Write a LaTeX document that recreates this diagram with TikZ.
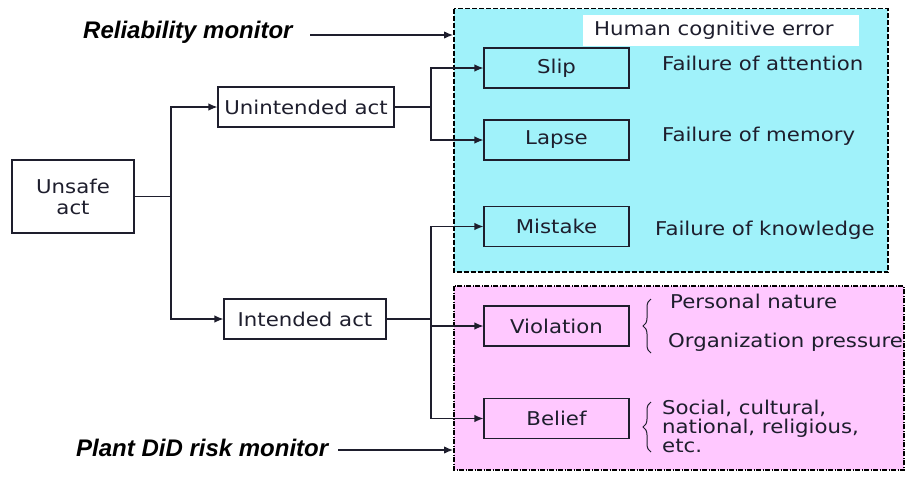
\documentclass[tikz,border=0pt]{standalone}
\usepackage{fontspec}
\setmainfont{DejaVu Sans}[FakeStretch=1.12]
\newfontfamily\labelfont{Liberation Sans}
\usetikzlibrary{arrows.meta,decorations.pathreplacing}
\definecolor{cyanzone}{RGB}{160,242,250}
\definecolor{pinkzone}{RGB}{255,200,255}
\definecolor{ink}{RGB}{30,30,45}
\tikzset{
  box/.style={draw=ink, line width=1.2pt, fill=#1, minimum height=40pt, inner sep=0pt, font=\fontsize{19}{22}\selectfont, text=ink},
  box/.default=white,
  conn/.style={draw=ink, line width=1.2pt},
  arr/.style={conn, -{Latex[length=9pt,width=7.5pt]}},
  note/.style={font=\fontsize{19}{22}\selectfont, text=ink, inner sep=0pt},
  monitor/.style={font=\labelfont\bfseries\itshape\fontsize{24}{28}\selectfont, text=black, inner sep=0pt},
  brc/.style={draw=ink, line width=1pt, decorate, decoration={brace, amplitude=8pt}}
}
\begin{document}
\begin{tikzpicture}[x=1pt, y=-1pt]
\useasboundingbox (0,0) rectangle (906,480);

% zones
\draw[line width=1.6pt, fill=cyanzone, dash pattern=on 5pt off 2pt] (454,8.5) rectangle (888,272);
\draw[line width=1.2pt, fill=pinkzone, dash pattern=on 5pt off 1.5pt on 1pt off 1.5pt] (454,286) rectangle (904,470);
\node[fill=white, minimum width=276pt, minimum height=31pt, inner sep=0pt] (hce) at (721,30.5) {};
\node[note, anchor=west] (hcetext) at (594,30.5) {Human cognitive error};

% boxes
\node[box, minimum width=122pt, minimum height=73pt, align=center] (unsafe) at (73,196.5) {Unsafe\\[-1pt]act};
\node[box, minimum width=176pt] (unint) at (306,107) {Unintended act};
\node[box, minimum width=162pt] (int) at (305,319) {Intended act};
\node[box=cyanzone, minimum width=145pt] (slip) at (556.5,68) {Slip};
\node[box=cyanzone, minimum width=145pt] (lapse) at (556.5,140) {Lapse};
\node[box=cyanzone, minimum width=145pt] (mistake) at (556.5,226.5) {Mistake};
\node[box=pinkzone, minimum width=145pt] (viol) at (556.5,326) {Violation};
\node[box=pinkzone, minimum width=145pt] (belief) at (556.5,418.5) {Belief};

% junctions
\coordinate (j1) at (171,196.5);
\coordinate (j2) at (431,107);
\coordinate (j3) at (431,319);

\draw[conn] (unsafe.east) -- (j1);
\draw[arr] (j1) |- (unint.west);
\draw[arr] (j1) |- (int.west);
\draw[conn] (unint.east) -- (j2);
\draw[arr] (j2) |- (slip.west);
\draw[arr] (j2) |- (lapse.west);
\draw[conn] (int.east) -- (j3);
\draw[arr] (j3) |- (mistake.west);
\draw[arr] (j3) |- (viol.west);
\draw[arr] (j3) |- (belief.west);

% descriptions
\node[note, anchor=west] (fa) at (662,63) {Failure of attention};
\node[note, anchor=west] (fm) at (662,136) {Failure of memory};
\node[note, anchor=west] (fk) at (655,230) {Failure of knowledge};
\node[note, anchor=west] (pn) at (670,301) {Personal nature};
\node[note, anchor=west] (op) at (668,342) {Organization pressure};
\node[note, anchor=west, align=left] (soc) at (662,426) {Social, cultural,\\[-3pt]national, religious,\\[-3pt]etc.};

\draw[brc] (651,353) -- (651,299);
\draw[brc] (651,452) -- (651,402);

% monitors
\node[monitor, anchor=west] (rm) at (83,32) {Reliability monitor};
\node[monitor, anchor=west] (pm) at (76,448) {Plant DiD risk monitor};
\coordinate (rmin) at (453,35);
\coordinate (pmin) at (453,450);
\draw[arr] (310,35) -- (rmin);
\draw[arr] (338,450) -- (pmin);
\end{tikzpicture}
\end{document}
